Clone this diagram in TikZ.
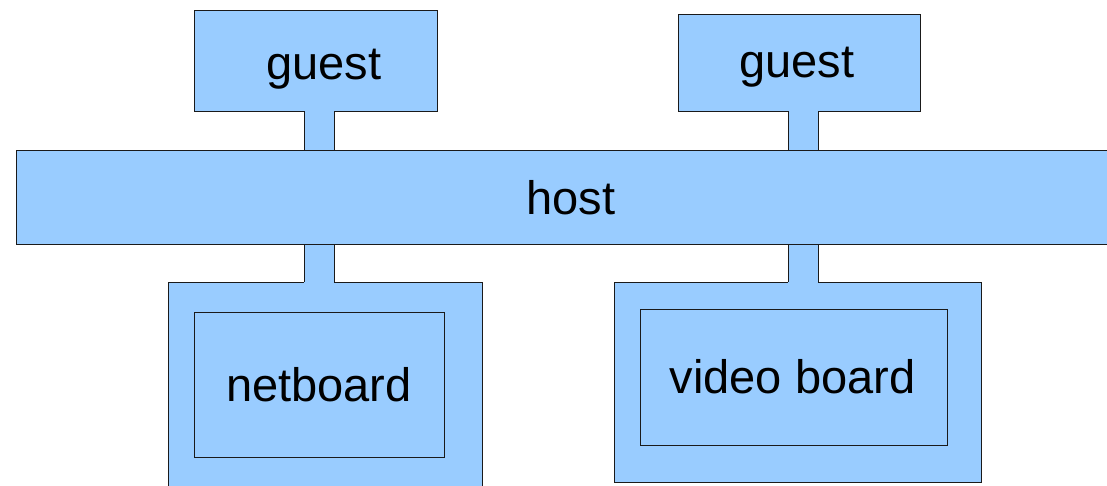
\documentclass[tikz,border=0pt]{standalone}
\usepackage{fontspec}
\setmainfont{Liberation Sans}
\definecolor{boxblue}{HTML}{99CCFF}
\definecolor{edge}{HTML}{1A1A1A}
\begin{document}
\begin{tikzpicture}[x=1pt,y=-1pt,
  blk/.style={rectangle, draw=edge, fill=boxblue, line width=1pt, inner sep=0pt, outer sep=0pt},
  stemfill/.style={fill=boxblue},
  stemside/.style={draw=edge, line width=1pt},
  lbl/.style={font=\fontsize{47}{47}\selectfont, anchor=base, inner sep=0pt, outer sep=0pt}]
\useasboundingbox (0,0) rectangle (1107,485);
\clip (0,0) rectangle (1107,485);

% guests on top of the host
\node[blk, minimum width=243pt, minimum height=101pt] (g1) at (315.5,60.5) {};
\node[blk, minimum width=242pt, minimum height=97pt] (g2) at (799,62.5) {};

% boards below the host
\node[blk, minimum width=314pt, minimum height=208pt] (nout) at (325,386) {};
\node[blk, minimum width=250pt, minimum height=145pt] (nin) at (319,384.5) {};
\node[blk, minimum width=367pt, minimum height=200pt] (vout) at (797.5,382) {};
\node[blk, minimum width=307pt, minimum height=136pt] (vin) at (793.5,377) {};

% stems joining guests and boards to the host (the host is drawn over their ends)
\fill[stemfill] (304,110) rectangle (334,160);
\fill[stemfill] (788,110) rectangle (818,160);
\draw[stemside] (304,111) -- (304,150) (334,111) -- (334,150);
\draw[stemside] (788,111) -- (788,150) (818,111) -- (818,150);
\fill[stemfill] (304,235) rectangle (334,283);
\fill[stemfill] (788,235) rectangle (818,283);
\draw[stemside] (304,244) -- (304,282) (334,244) -- (334,282);
\draw[stemside] (788,244) -- (788,282) (818,244) -- (818,282);

% host bar
\node[blk, minimum width=1096pt, minimum height=94pt] (host) at (564,197) {};

% labels
\node[lbl] (tg1) at (324,79) {guest};
\node[lbl] (tg2) at (797,77) {guest};
\node[lbl] (th) at (571,214) {host};
\node[lbl] (tn) at (319,401.5) {netboard};
\node[lbl] (tv) at (792.5,393) {video board};
\end{tikzpicture}
\end{document}
